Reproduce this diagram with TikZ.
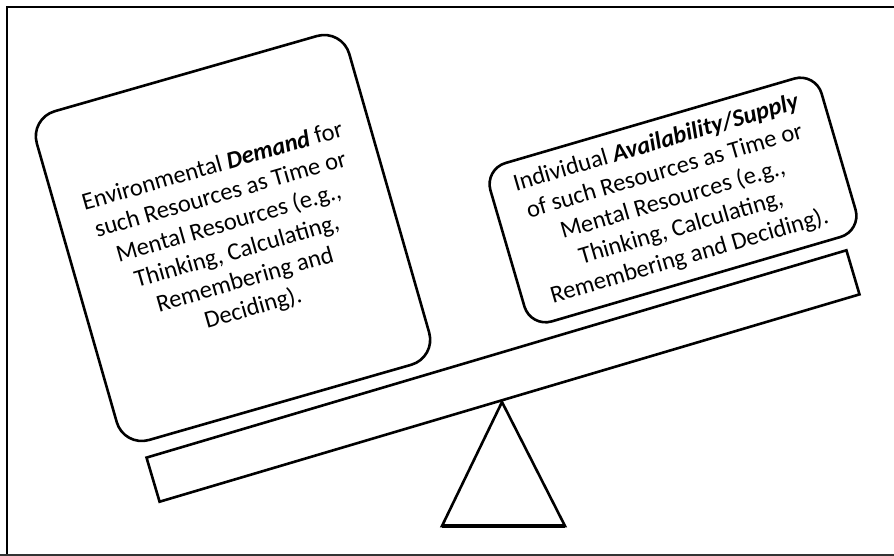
\documentclass[tikz,border=0pt]{standalone}
\usepackage{fontspec}
\setmainfont{Carlito}
\begin{document}
\begin{tikzpicture}[x=1pt,y=-1pt,
  frameline/.style={line width=1.8pt,black},
  boxstyle/.style={draw,line width=2.6pt,rounded corners=26pt,inner sep=0pt,align=center,
     font=\fontsize{24.5}{29.5}\selectfont},
  beamstyle/.style={draw,line width=2.6pt,inner sep=0pt,minimum width=730pt,minimum height=46pt},
  fulcrum/.style={draw,line width=2.6pt,line join=miter}]
\useasboundingbox (0,0) rectangle (894,556);
% frame
\coordinate (f1) at (7,556);
\coordinate (f2) at (7,7);
\coordinate (f3) at (894,7);
\coordinate (f4) at (0,555);
\coordinate (f5) at (894,555);
\draw[frameline] (f1) -- (f2) -- (f3);
\draw[frameline,line width=1.4pt,black!80] (f4) -- (f5);
% beam
\node[beamstyle,rotate=16.5] (beam) at (503,376) {};
% fulcrum
\coordinate (apex) at (502,402);
\coordinate (bl) at (442,526);
\coordinate (br) at (565,526);
\draw[fulcrum] (apex) -- (bl) -- (br) -- cycle;
\draw[line width=4pt] (bl) -- (br);
% left box
\node[boxstyle,rotate=16,minimum width=325pt,minimum height=342pt] (demand) at (233,238)
 {Environmental \textbf{\textit{Demand}} for\\
  such Resources as Time or\\
  Mental Resources (e.g.,\\
  Thinking, Calculating,\\
  Remembering and\\
  Deciding).};
% right box
\node[boxstyle,rounded corners=22pt,rotate=16.3,minimum width=345pt,minimum height=165pt] (supply) at (673,200)
 {Individual \textbf{\textit{Availability/Supply}}\\
  of such Resources as Time or\\
  Mental Resources (e.g.,\\
  Thinking, Calculating,\\
  Remembering and Deciding).};
\end{tikzpicture}
\end{document}
